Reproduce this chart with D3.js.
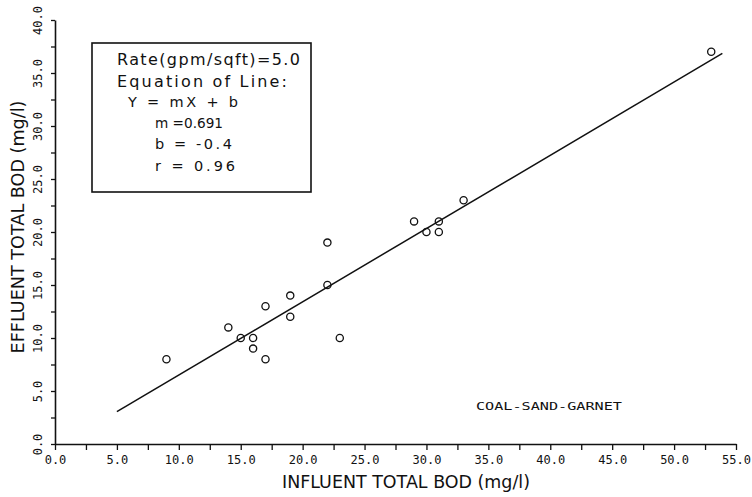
<!DOCTYPE html>
<html><head><meta charset="utf-8">
<script src="https://cdn.jsdelivr.net/npm/d3@7"></script>
<style>
html,body{margin:0;padding:0;background:#fff;}
svg{display:block;}
text{font-family:"DejaVu Sans",sans-serif;fill:#111;}
</style></head>
<body>
<svg id="chart" width="752" height="497"></svg>
<script>
// ---- data ----
const influent = [9, 14, 15, 16, 16, 17, 17, 19, 19, 22, 22, 23, 29, 30, 31, 31, 33, 53];
const effluent = [8, 11, 10, 10, 9, 8, 13, 14, 12, 15, 19, 10, 21, 20, 21, 20, 23, 37];
const slope = 0.691;
const intercept = -0.4;
const lineXRange = [5, 53.9];
const xTickValues = [0, 5, 10, 15, 20, 25, 30, 35, 40, 45, 50, 55];
const yTickValues = [0, 5, 10, 15, 20, 25, 30, 35, 40];
const legendLines = ["Rate(gpm/sqft)=5.0", "Equation of Line:", "Y = mX + b", "m =0.691", "b = -0.4", "r = 0.96"];
const xTitle = "INFLUENT TOTAL BOD (mg/l)";
const yTitle = "EFFLUENT TOTAL BOD (mg/l)";
const mediaLabel = "COAL-SAND-GARNET";

const svg = d3.select("#chart");
const x = d3.scaleLinear().domain([0, 55]).range([55, 736]);
const y = d3.scaleLinear().domain([0, 40]).range([444, 20]);

const fmt = d => (Math.abs(d % 5) < 1e-9 ? d.toFixed(1) : "");

// x axis
const gx = svg.append("g").attr("transform", `translate(0,${y(0)})`)
  .call(d3.axisBottom(x).tickValues(d3.range(0, 55.01, 2.5)).tickFormat(fmt).tickSize(6).tickSizeOuter(0));
gx.select(".domain").attr("stroke", "#111").attr("stroke-width", 1.6);
gx.selectAll(".tick line").attr("stroke", "#111").attr("stroke-width", 1.3);
gx.selectAll(".tick text").attr("y", 11).attr("dy", "0.71em")
  .style("font-family", "'DejaVu Sans Mono',monospace").style("font-size", "12px").attr("fill", "#111");

// y axis
const gy = svg.append("g").attr("transform", `translate(${x(0)},0)`)
  .call(d3.axisLeft(y).tickValues(d3.range(0, 40.01, 2.5)).tickFormat(fmt).tickSize(4).tickSizeOuter(0));
gy.select(".domain").attr("stroke", "#111").attr("stroke-width", 1.6);
gy.selectAll(".tick line").attr("stroke", "#111").attr("stroke-width", 1.3);
gy.selectAll(".tick text").attr("transform", "rotate(-90)")
  .attr("x", 0).attr("y", -17).attr("dy", "0.35em").attr("text-anchor", "middle")
  .style("font-family", "'DejaVu Sans Mono',monospace").style("font-size", "12px").attr("fill", "#111");

// axis titles
svg.append("text").attr("x", 406).attr("y", 488).attr("text-anchor", "middle")
  .attr("textLength", 248).attr("lengthAdjust", "spacingAndGlyphs")
  .style("font-size", "17px").text(xTitle);
svg.append("text").attr("transform", "translate(24,227) rotate(-90)").attr("text-anchor", "middle")
  .attr("textLength", 253).attr("lengthAdjust", "spacingAndGlyphs")
  .style("font-size", "17px").text(yTitle);

// regression line
svg.append("line")
  .attr("x1", x(lineXRange[0])).attr("y1", y(slope * lineXRange[0] + intercept))
  .attr("x2", x(lineXRange[1])).attr("y2", y(slope * lineXRange[1] + intercept))
  .attr("stroke", "#111").attr("stroke-width", 1.5);

// points
svg.append("g").selectAll("circle").data(influent.map((v, i) => [v, effluent[i]]))
  .join("circle").attr("cx", d => x(d[0])).attr("cy", d => y(d[1])).attr("r", 3.6)
  .attr("fill", "none").attr("stroke", "#111").attr("stroke-width", 1.3);

// legend box
svg.append("rect").attr("x", 92).attr("y", 43).attr("width", 219).attr("height", 149)
  .attr("fill", "none").attr("stroke", "#111").attr("stroke-width", 1.6);
const legendPos = [[117, 65, 183], [117, 87, 170], [128, 107, 110], [155, 128, 68], [155, 149, 77], [155, 171, 80]];
legendLines.forEach((t, i) => {
  svg.append("text").attr("x", legendPos[i][0]).attr("y", legendPos[i][1])
    .attr("textLength", legendPos[i][2]).attr("lengthAdjust", i === 3 ? "spacingAndGlyphs" : "spacing")
    .style("font-size", i < 2 ? "16px" : "14.5px").text(t);
});

// media label
svg.append("text").attr("x", 476).attr("y", 410)
  .attr("textLength", 146).attr("lengthAdjust", "spacingAndGlyphs")
  .style("font-family", "'DejaVu Sans Mono',monospace").style("font-size", "11px").text(mediaLabel);
</script>
</body></html>
